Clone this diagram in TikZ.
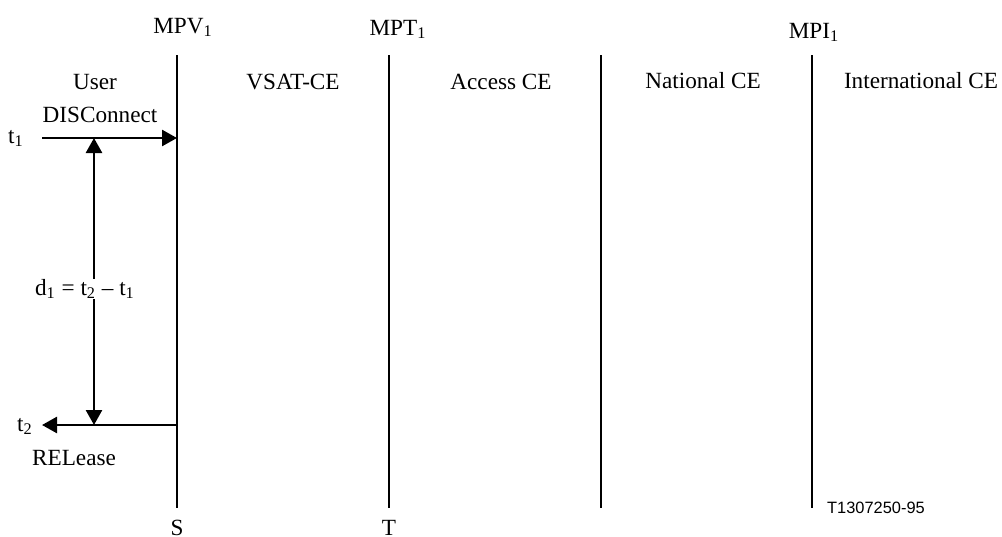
\documentclass[tikz,border=0pt]{standalone}
\usepackage{fontspec}
\setmainfont{Liberation Serif}
\newfontfamily\arialfont{Liberation Sans}
\usetikzlibrary{arrows.meta,calc}
\begin{document}
\begin{tikzpicture}[x=0.5pt,y=-0.5pt,
  lifeline/.style={line width=1.3pt},
  msg/.style={line width=1.3pt,-{Triangle[length=7.5pt,width=8pt]}},
  dblmsg/.style={line width=1.3pt,{Triangle[length=7.5pt,width=8pt]}-{Triangle[length=7.5pt,width=8pt]}},
  lbl/.style={font=\fontsize{11.6}{14}\selectfont,inner sep=0pt,anchor=base},
  code/.style={font=\arialfont\fontsize{8.2}{10}\selectfont,inner sep=0pt,anchor=base}]
\useasboundingbox (0,0) rectangle (1002,536);
% lifelines
\coordinate (v1t) at (177,55); \coordinate (v1b) at (177,508);
\coordinate (v2t) at (389,55); \coordinate (v2b) at (389,508);
\coordinate (v3t) at (601,55); \coordinate (v3b) at (601,508);
\coordinate (v4t) at (812,55); \coordinate (v4b) at (812,508);
\draw[lifeline] (v1t) -- (v1b);
\draw[lifeline] (v2t) -- (v2b);
\draw[lifeline] (v3t) -- (v3b);
\draw[lifeline] (v4t) -- (v4b);
% headers
\node[lbl] (mpv) at (183,33) {MPV\textsubscript{1}};
\node[lbl] (mpt) at (398,35) {MPT\textsubscript{1}};
\node[lbl] (mpi) at (814,38) {MPI\textsubscript{1}};
\node[lbl] (user) at (95,89) {User};
\node[lbl] (vsat) at (293,89) {VSAT-CE};
\node[lbl] (acc) at (501,89) {Access CE};
\node[lbl] (nat) at (703,88) {National CE};
\node[lbl] (intl) at (921,88) {International CE};
% messages
\coordinate (t1s) at (42,138);
\coordinate (t2e) at (42,425);
\coordinate (d1t) at (94,138);
\coordinate (d1b) at (94,425);
\draw[msg] (t1s) -- (t1s -| v1t);
\draw[msg] (t2e -| v1t) -- (t2e);
\draw[dblmsg] (d1t) -- (d1b);
\node[lbl] (disc) at (100,122) {DISConnect};
\node[lbl] (t1) at (16,143) {t\textsubscript{1}};
\node[lbl] (t2) at (25,431) {t\textsubscript{2}};
\node[lbl] (rel) at (74,465) {RELease};
\node[lbl,fill=white] (d1) at (85,295) {d\textsubscript{1} = t\textsubscript{2} – t\textsubscript{1}};
% bottom
\node[lbl] (S) at (177,535) {S};
\node[lbl] (T) at (389,535) {T};
\node[code] (fig) at (876,513) {T1307250-95};
\end{tikzpicture}
\end{document}
